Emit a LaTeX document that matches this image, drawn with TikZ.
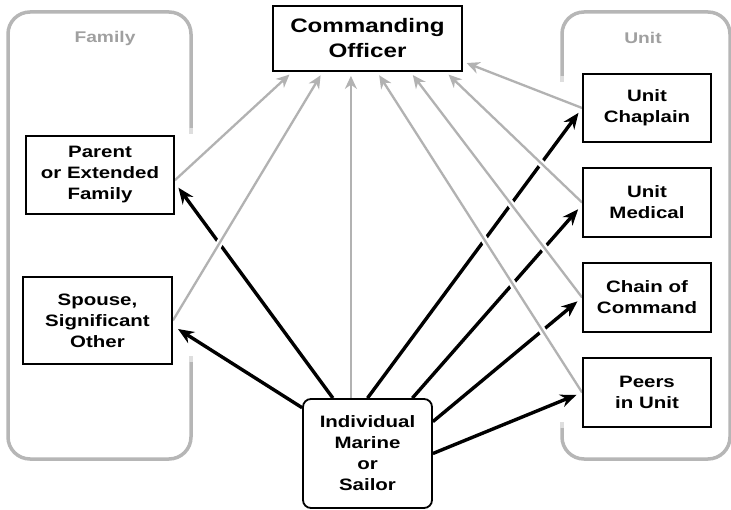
\documentclass[tikz,border=0pt]{standalone}
\usepackage{fontspec}
\setmainfont{Liberation Sans}[FakeStretch=1.24]
\usetikzlibrary{arrows.meta,calc,backgrounds}
\definecolor{framegray}{RGB}{182,182,182}
\definecolor{arrowgray}{RGB}{178,178,178}
\definecolor{labelgray}{RGB}{160,160,160}
\begin{document}
\begin{tikzpicture}[x=1pt, y=-1pt,
   box/.style={draw, fill=white, line width=1.8pt, align=center, inner sep=0pt,
      font=\bfseries\fontsize{16.5}{21}\selectfont},
   blk/.style={-{Stealth[length=16pt, width=13pt]}, line width=3.4pt, shorten >=6pt},
   gry/.style={-{Stealth[length=13pt, width=12pt]}, draw=arrowgray, line width=2.3pt, shorten >=4pt,
      preaction={draw=white, line width=7pt, -}},
   frame/.style={draw=framegray, line width=3.5pt, rounded corners=22pt},
   grouplabel/.style={text=labelgray, font=\bfseries\fontsize{15.5}{18}\selectfont}]
\useasboundingbox (0,0) rectangle (731,510);

\node [box, minimum width=189pt, minimum height=65pt, font=\bfseries\fontsize{19.5}{25}\selectfont]
   (co) at (367.5,38.5) {Commanding\\Officer};
\node [box, minimum width=148pt, minimum height=78pt] (parent) at (100,175) {Parent\\or Extended\\Family};
\node [box, minimum width=149pt, minimum height=87pt] (spouse) at (97.5,320.5) {Spouse,\\Significant\\Other};
\node [box, minimum width=128pt, minimum height=68pt] (chaplain) at (647,108) {Unit\\Chaplain};
\node [box, minimum width=128pt, minimum height=69pt] (medical) at (647,202.5) {Unit\\Medical};
\node [box, minimum width=128pt, minimum height=69pt] (chain) at (647,297.5) {Chain of\\Command};
\node [box, minimum width=128pt, minimum height=69pt] (peers) at (647,392.5) {Peers\\in Unit};
\node [box, minimum width=129pt, minimum height=109pt, rounded corners=8pt]
   (ind) at (367.5,453.5) {Individual\\Marine\\or\\Sailor};

\node [grouplabel] (family) at (105,38) {Family};
\node [grouplabel] (unit) at (643,38) {Unit};

\foreach \i/\f in {1/.106,2/.265,3/.413,4/.55,5/.725,6/.91}
{
   \coordinate (co\i) at ($(co.south west)!\f!(co.south east)$);
}
\coordinate (co7) at ($(co.north east)!.846!(co.south east)$);

\begin{scope}[on background layer]
\draw [frame](191,128)--(191,12)--(8,12)--(8,459)--(191,459)--(191,362);
\draw [draw=framegray!45, line width=3.5pt](191,128)--(191,134);
\draw [draw=framegray!45, line width=3.5pt](191,362)--(191,356);
\draw [frame](562,76)--(562,12)--(730,12)--(730,459)--(562,459)--(562,428);
\draw [draw=framegray!45, line width=3.5pt](562,76)--(562,82);
\draw [draw=framegray!45, line width=3.5pt](562,428)--(562,422);

\foreach \a/\b in {122/parent.-6, 145/spouse.-4, 90/chaplain.west, 51/medical.182, 26/chain.west, 0/peers.west}
{
   \draw [blk](ind.\a)--(\b);
}

\foreach \s/\t in {parent.-4/co1, spouse.east/co2, peers.west/co4, chain.west/co5, medical.west/co6, chaplain.west/co7}
{
   \draw [gry](\s)--(\t);
}
\draw [gry](ind.north -| co3)--(co3);
\end{scope}
\end{tikzpicture}
\end{document}
